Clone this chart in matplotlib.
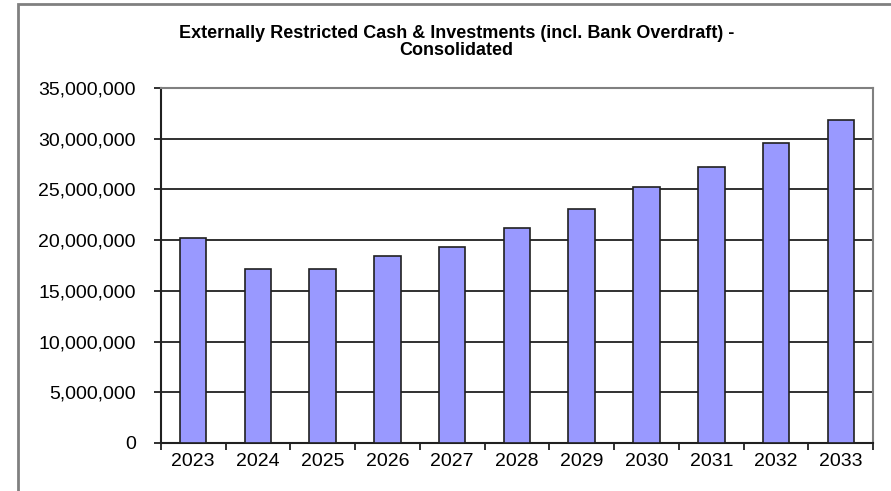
import numpy as np
import matplotlib
matplotlib.use("Agg")
import matplotlib.pyplot as plt
from matplotlib.patches import Rectangle
from matplotlib.ticker import FuncFormatter, FixedLocator

# Restricted cash balances per year
years = ["2023", "2024", "2025", "2026", "2027", "2028",
         "2029", "2030", "2031", "2032", "2033"]
balances = [20200000, 17150000, 17150000, 18450000, 19350000, 21200000,
            23100000, 25200000, 27250000, 29550000, 31800000]
title_lines = ["Externally Restricted Cash & Investments (incl. Bank Overdraft) -",
               "Consolidated"]

plt.rcParams['font.family'] = ['Liberation Sans', 'DejaVu Sans']

fig = plt.figure(figsize=(8.91, 4.91), dpi=100)
ax = fig.add_axes([0.1804, 0.0978, 0.7996, 0.723])

# chart frame, clipped on the right and bottom
fig.patches.append(Rectangle((18 / 891, -0.05), 1.1, (491 - 4) / 491 + 0.05,
                             transform=fig.transFigure, fill=False,
                             edgecolor="#808080", linewidth=2))

x = np.arange(len(years))
ax.bar(x, balances, width=0.41, color="#9999FF", edgecolor="#202020",
       linewidth=1.2, zorder=3)

ax.set_xlim(-0.5, len(years) - 0.5)
ax.set_ylim(0, 35000000)
ax.set_yticks(np.arange(0, 35000001, 5000000))
ax.yaxis.set_major_formatter(FuncFormatter(lambda v, p: f"{int(v):,}"))
ax.grid(axis="y", color="#202020", linewidth=1.3, zorder=1)

ax.set_xticks(x)
ax.set_xticklabels(years)
ax.tick_params(axis="x", length=0, pad=7, labelsize=14)
ax.xaxis.set_minor_locator(FixedLocator(np.arange(-0.5, len(years), 1.0)))
ax.tick_params(axis="x", which="minor", length=5, width=1.3, color="#202020")
ax.tick_params(axis="y", length=5, width=1.3, color="#202020", labelsize=14, pad=13)

for side in ("left", "bottom"):
    ax.spines[side].set_color("#202020")
    ax.spines[side].set_linewidth(1.5)
for side in ("top", "right"):
    ax.spines[side].set_color("#808080")
    ax.spines[side].set_linewidth(1.5)
ax.set_axisbelow(True)

# two-line title, each line placed on its own baseline
for line, ypix in zip(title_lines, [38, 55]):
    fig.text(0.512, 1 - ypix / 491, line, ha="center", va="baseline",
             fontsize=13, fontweight="bold")

fig.savefig("out.png", dpi=100)
